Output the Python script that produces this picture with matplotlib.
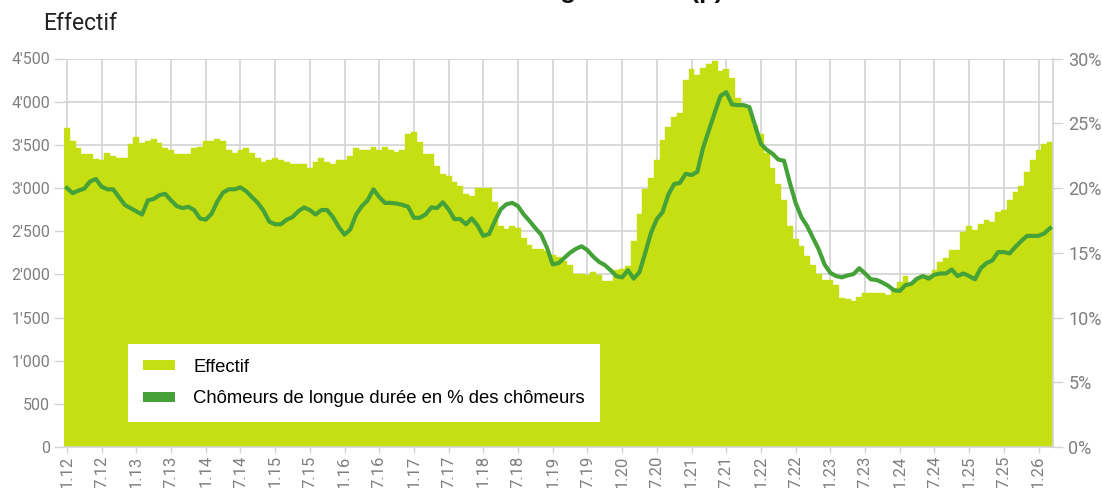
import matplotlib

matplotlib.use("Agg")
from matplotlib import pyplot as plt
from matplotlib.patches import Patch

# monthly values, Jan 2012 .. Mar 2026
effectif = [
    3690, 3550, 3460, 3390, 3390, 3340, 3320, 3410, 3370, 3345, 3345, 3505,  # 2012
    3595, 3525, 3550, 3570, 3525, 3460, 3435, 3390, 3390, 3390, 3460, 3480,  # 2013
    3550, 3550, 3570, 3550, 3435, 3410, 3435, 3460, 3410, 3345, 3305, 3320,  # 2014
    3345, 3320, 3300, 3275, 3275, 3275, 3235, 3300, 3345, 3300, 3275, 3320,  # 2015
    3320, 3365, 3460, 3435, 3435, 3480, 3435, 3480, 3435, 3420, 3440, 3625,  # 2016
    3650, 3535, 3395, 3395, 3260, 3165, 3140, 3075, 3025, 2935, 2910, 3005,  # 2017
    3005, 3005, 2840, 2565, 2520, 2565, 2540, 2425, 2335, 2290, 2290, 2270,  # 2018
    2225, 2200, 2150, 2105, 2000, 2000, 1990, 2030, 1990, 1920, 1920, 2055,  # 2019
    2060, 2100, 2385, 2700, 2985, 3120, 3330, 3560, 3705, 3820, 3865, 4255,  # 2020
    4375, 4305, 4390, 4440, 4470, 4360, 4375, 4275, 4045, 3965, 3910, 3735,  # 2021
    3630, 3410, 3235, 3050, 2865, 2560, 2405, 2325, 2210, 2105, 2005, 1940,  # 2022
    1940, 1875, 1730, 1710, 1690, 1735, 1785, 1785, 1785, 1785, 1760, 1840,  # 2023
    1915, 1985, 1900, 1955, 1975, 1995, 2050, 2140, 2190, 2285, 2285, 2495,  # 2024
    2560, 2515, 2580, 2630, 2610, 2725, 2745, 2865, 2955, 3025, 3185, 3325,  # 2025
    3440, 3510, 3535,                                                        # 2026
]

part_longue_duree = [
    20.0, 19.6, 19.8, 19.95, 20.5, 20.7, 20.1, 19.9, 19.9, 19.3, 18.7, 18.45,
    18.2, 17.95, 19.05, 19.15, 19.45, 19.55, 19.05, 18.6, 18.45, 18.55, 18.3, 17.65,
    17.55, 18.0, 18.95, 19.65, 19.9, 19.9, 20.05, 19.75, 19.3, 18.85, 18.25, 17.4,
    17.2, 17.2, 17.55, 17.75, 18.2, 18.5, 18.3, 17.95, 18.3, 18.3, 17.75, 17.0,
    16.4, 16.8, 17.95, 18.6, 19.05, 19.9, 19.3, 18.85, 18.85, 18.8, 18.7, 18.55,
    17.7, 17.7, 17.95, 18.5, 18.45, 18.9, 18.35, 17.6, 17.6, 17.2, 17.65, 17.1,
    16.3, 16.45, 17.45, 18.35, 18.75, 18.85, 18.6, 17.95, 17.45, 16.9, 16.4, 15.4,
    14.1, 14.2, 14.6, 15.0, 15.3, 15.5, 15.2, 14.7, 14.3, 14.05, 13.65, 13.2,
    13.1, 13.65, 13.0, 13.5, 15.0, 16.55, 17.6, 18.15, 19.5, 20.3, 20.4, 21.1,
    21.0, 21.25, 23.1, 24.45, 25.8, 27.1, 27.4, 26.45, 26.4, 26.4, 26.25, 24.8,
    23.4, 22.95, 22.65, 22.2, 22.1, 20.4, 18.85, 17.75, 17.05, 16.15, 15.25, 14.1,
    13.45, 13.2, 13.1, 13.25, 13.35, 13.8, 13.4, 12.95, 12.9, 12.7, 12.45, 12.1,
    12.05, 12.5, 12.6, 13.0, 13.2, 13.0, 13.3, 13.4, 13.4, 13.7, 13.2, 13.4,
    13.2, 12.95, 13.8, 14.2, 14.4, 15.05, 15.05, 14.95, 15.45, 15.9, 16.3, 16.3,
    16.3, 16.5, 16.9,
]

start_year = 2012
left_ticks = [0, 500, 1000, 1500, 2000, 2500, 3000, 3500, 4000, 4500]
right_ticks = [0, 5, 10, 15, 20, 25, 30]

LIME = "#c6df12"
GREEN = "#45a238"
GRID = "#d3d3d3"
TICK = "#7f7f7f"

months = list(range(len(effectif)))
tick_pos = months[::6]
tick_labels = [f"{1 + (m % 12)}.{(start_year + m // 12) % 100:02d}" for m in tick_pos]

fig = plt.figure(figsize=(11.02, 4.88), dpi=100)
ax = fig.add_axes([64 / 1102, 41 / 488, 989 / 1102, 388.5 / 488])

ax.bar(months, effectif, width=1.0, color=LIME, edgecolor=LIME, linewidth=0.3, zorder=2)
ax.set_xlim(-0.5, len(effectif) - 0.5)
ax.set_ylim(0, 4500)
ax.set_yticks(left_ticks)
ax.set_yticklabels([f"{v:,}".replace(",", "'") for v in left_ticks])
ax.set_xticks(tick_pos)
ax.set_xticklabels(tick_labels, rotation=90)
ax.set_axisbelow(True)
ax.grid(True, color=GRID, linewidth=1.2)

for side in ("left", "top", "right"):
    ax.spines[side].set_visible(False)
ax.spines["bottom"].set_color(GRID)
ax.spines["bottom"].set_linewidth(1.2)
ax.tick_params(axis="y", length=7, width=1.0, color=GRID, pad=3, labelcolor=TICK, labelsize=11.5)
ax.tick_params(axis="x", length=4, width=1.0, color=GRID, pad=2, labelcolor=TICK, labelsize=12)

ax2 = ax.twinx()
ax2.plot(months, part_longue_duree, color=GREEN, linewidth=3, solid_joinstyle="round", zorder=3)
ax2.set_ylim(0, 30)
ax2.set_yticks(right_ticks)
ax2.set_yticklabels([f"{v}%" for v in right_ticks])
for side in ("left", "top", "bottom"):
    ax2.spines[side].set_visible(False)
ax2.spines["right"].set_color(GRID)
ax2.spines["right"].set_linewidth(1.2)
ax2.tick_params(axis="y", length=7, width=1.0, color=GRID, pad=4, labelcolor=TICK, labelsize=13)

for label in ax.get_xticklabels() + ax.get_yticklabels() + ax2.get_yticklabels():
    label.set_family("Roboto")

handles = [
    Patch(facecolor=LIME, edgecolor="none", label="Effectif"),
    Patch(facecolor=GREEN, edgecolor="none", label="Chômeurs de longue durée en % des chômeurs"),
]
legend = ax2.legend(
    handles=handles,
    loc="lower left",
    bbox_to_anchor=(64 / 989, 25 / 388.5),
    borderaxespad=0,
    prop={"family": "Liberation Sans", "size": 13.3},
    frameon=True,
    fancybox=False,
    framealpha=1,
    edgecolor="none",
    handlelength=1.73,
    handleheight=0.45,
    handletextpad=1.0,
    borderpad=0.8,
    labelspacing=0.77,
)
legend.get_frame().set_linewidth(0)

fig.text(43 / 1102, 1 - 30 / 488, "Effectif", family="Roboto", fontsize=16.5, color="#222222", va="baseline")
# main title, mostly cut off by the top edge
fig.text(350 / 1102, 1 + 2 / 488, "Chômeurs de longue durée (p)", family="Liberation Sans",
         fontweight="bold", fontsize=18.5, color="#111111", va="baseline")

fig.savefig("out.png", dpi=100)
plt.close(fig)
